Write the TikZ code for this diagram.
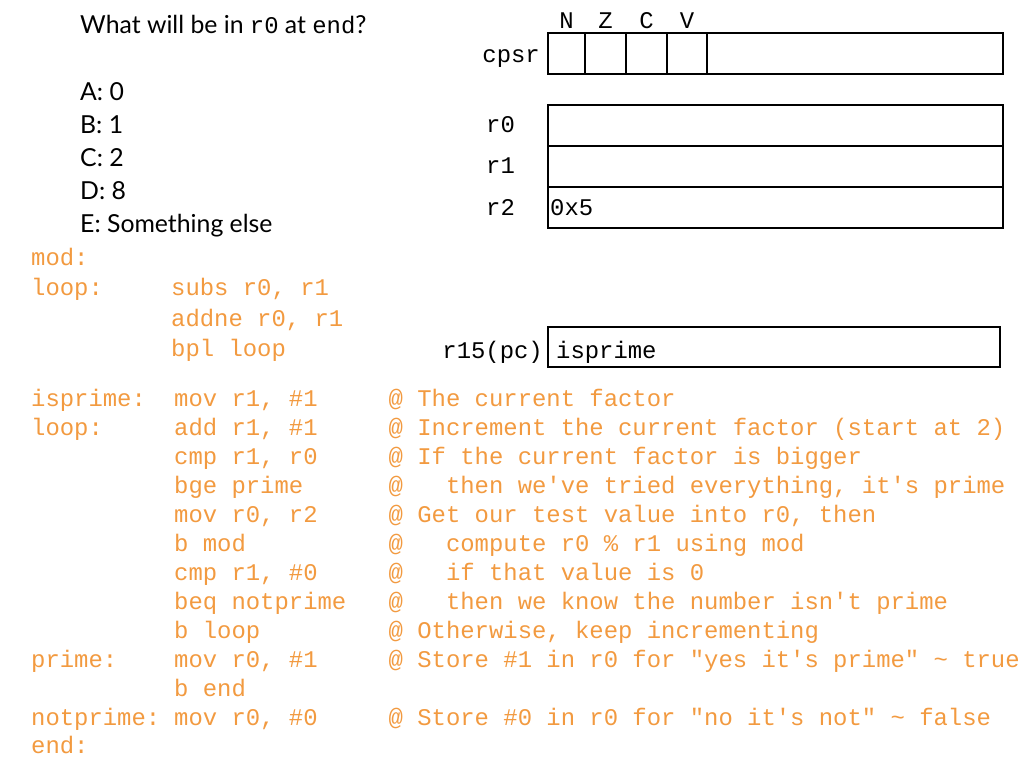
\documentclass[tikz,border=0pt]{standalone}
\usepackage{fontspec}
\setmainfont{Lato}
\setmonofont{Liberation Mono}
\definecolor{codeorange}{HTML}{F29A40}
\newcommand{\codesz}{\fontsize{23.9}{28}\selectfont}
\newcommand{\qsz}{\fontsize{24.8}{28}\selectfont}
\tikzset{
  code/.style={anchor=base west, inner sep=0pt, font=\ttfamily\codesz, text=codeorange},
  reglabel/.style={inner sep=0pt, font=\ttfamily\codesz, text=black},
  qtext/.style={anchor=base west, inner sep=0pt, font=\qsz, text=black},
  regline/.style={draw=black, line width=2pt}
}
\begin{document}
\begin{tikzpicture}[x=1pt,y=-1pt]
\useasboundingbox (0,0) rectangle (1024,768);
% question
\node[qtext] (q) at (80,34) {What will be in {\ttfamily\codesz r0} at {\ttfamily\codesz end}?};
\node[qtext] (qa) at (80,100) {A: 0};
\node[qtext] (qb) at (80,133) {B: 1};
\node[qtext] (qc) at (80,166) {C: 2};
\node[qtext] (qd) at (80,199) {D: 8};
\node[qtext] (qe) at (80,232) {E: Something else};
% cpsr
\draw[regline] (548,33) rectangle (1003,74);
\draw[regline] (585,33) -- (585,74) (626,33) -- (626,74) (667,33) -- (667,74) (707,33) -- (707,74);
\node[reglabel, anchor=base] (fN) at (566.5,29) {N};
\node[reglabel, anchor=base] (fZ) at (605.5,29) {Z};
\node[reglabel, anchor=base] (fC) at (646.5,29) {C};
\node[reglabel, anchor=base] (fV) at (687,29) {V};
\node[reglabel, anchor=base east] (lcpsr) at (540,63) {cpsr};
% r0-r2
\draw[regline] (548,105) rectangle (1003,228);
\draw[regline] (548,146) -- (1003,146) (548,187) -- (1003,187);
\node[reglabel, anchor=base west] (lr0) at (486,132) {r0};
\node[reglabel, anchor=base west] (lr1) at (486,173.5) {r1};
\node[reglabel, anchor=base west] (lr2) at (486,215) {r2};
\node[reglabel, anchor=base west] (vr2) at (550,215) {0x5};
% pc
\draw[regline] (548,327) rectangle (1000,367);
\node[reglabel, anchor=base east] (lpc) at (543,358) {r15(pc)};
\node[reglabel, anchor=base west] (vpc) at (556,358) {isprime};
% mod routine
\node[code] (m1l) at (31,265.5) {mod:};
\node[code] (m2l) at (31,295.8) {loop:};
\node[code] (m2i) at (171,295.8) {subs r0, r1};
\node[code] (m3i) at (171,326) {addne r0, r1};
\node[code] (m4i) at (171,356) {bpl loop};
% isprime routine
\node[code] (p1l) at (31,406.5) {isprime:};
\node[code] (p1i) at (174,406.5) {mov r1, \#1};
\node[code] (p1c) at (388.5,406.5) {@ The current factor};
\node[code] (p2l) at (31,435.4) {loop:};
\node[code] (p2i) at (174,435.4) {add r1, \#1};
\node[code] (p2c) at (388.5,435.4) {@ Increment the current factor (start at 2)};
\node[code] (p3i) at (174,464.3) {cmp r1, r0};
\node[code] (p3c) at (388.5,464.3) {@ If the current factor is bigger};
\node[code] (p4i) at (174,493.2) {bge prime};
\node[code] (p4c) at (388.5,493.2) {@\ \ \ then we've tried everything, it's prime};
\node[code] (p5i) at (174,522.1) {mov r0, r2};
\node[code] (p5c) at (388.5,522.1) {@ Get our test value into r0, then};
\node[code] (p6i) at (174,551) {b mod};
\node[code] (p6c) at (388.5,551) {@\ \ \ compute r0 \% r1 using mod};
\node[code] (p7i) at (174,580) {cmp r1, \#0};
\node[code] (p7c) at (388.5,580) {@\ \ \ if that value is 0};
\node[code] (p8i) at (174,609) {beq notprime};
\node[code] (p8c) at (388.5,609) {@\ \ \ then we know the number isn't prime};
\node[code] (p9i) at (174,638) {b loop};
\node[code] (p9c) at (388.5,638) {@ Otherwise, keep incrementing};
\node[code] (p10l) at (31,667) {prime:};
\node[code] (p10i) at (174,667) {mov r0, \#1};
\node[code] (p10c) at (388.5,667) {@ Store \#1 in r0 for "yes it's prime" \textasciitilde\ true};
\node[code] (p11i) at (174,696) {b end};
\node[code] (p12l) at (31,725) {notprime:};
\node[code] (p12i) at (174,725) {mov r0, \#0};
\node[code] (p12c) at (388.5,725) {@ Store \#0 in r0 for "no it's not" \textasciitilde\ false};
\node[code] (p13l) at (31,753.5) {end:};
\end{tikzpicture}
\end{document}
